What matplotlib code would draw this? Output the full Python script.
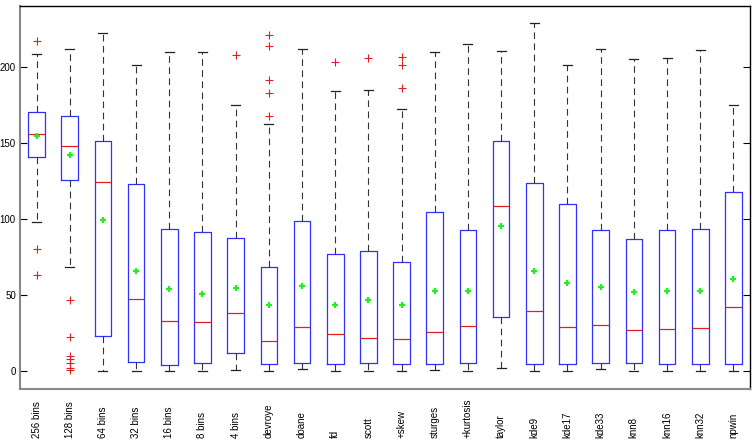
import matplotlib
matplotlib.use("Agg")
import matplotlib.pyplot as plt

labels = ["256 bins", "128 bins", "64 bins", "32 bins", "16 bins", "8 bins", "4 bins",
          "devroye", "doane", "fd", "scott", "+skew", "sturges", "+kurtosis",
          "taylor", "kde9", "kde17", "kde33", "knn8", "knn16", "knn32", "npwin"]

whislo = [97.8, 68.2, 0, 0, 0, 0, 0.7, 0, 1.1, 0, 0, 0, 0.9, 0,
          1.8, 0, 0, 1.5, 0, 0, 0, 0]
q1 = [140.8, 125.4, 22.8, 5.7, 3.9, 5.3, 11.6, 4.4, 5.0, 4.4, 5.0, 4.4, 4.4, 5.3,
      35.7, 4.8, 4.4, 5.3, 5.3, 4.8, 4.4, 4.8]
med = [155.7, 147.8, 124.1, 47.4, 32.7, 32.2, 38.4, 19.5, 28.7, 24.1, 21.7, 21.1, 25.9, 29.4,
       108.3, 39.3, 28.7, 30.5, 26.7, 27.4, 28.1, 41.9]
q3 = [170.0, 168.0, 151.5, 123.0, 93.2, 91.2, 87.3, 68.2, 98.9, 76.7, 78.7, 71.9, 104.4, 93.0,
      151.5, 123.5, 109.6, 92.8, 87.0, 92.8, 93.2, 117.8]
whishi = [208.3, 212.0, 222.4, 200.9, 209.9, 209.6, 174.8, 162.3, 211.6, 184.2, 184.9, 172.1, 209.6, 214.9,
          210.1, 229.0, 201.5, 211.6, 205.0, 205.5, 210.9, 175.2]
means = [154.6, 141.9, 99.3, 65.8, 53.7, 50.9, 54.4, 43.6, 55.7, 43.6, 46.5, 43.2, 52.8, 52.8,
         95.2, 65.8, 57.9, 55.3, 51.8, 52.8, 52.8, 60.3]
outliers = [
    [217.3, 80.3, 63.4],
    [46.5, 22.4, 10.0, 8.0, 5.0, 2.0, 1.0],
    [], [], [], [],
    [207.5],
    [221.0, 214.0, 191.2, 182.7, 167.6],
    [],
    [203.5],
    [205.7],
    [206.3, 201.3, 186.4],
    [], [], [], [], [], [], [], [], [], [],
]

stats = []
for i, lab in enumerate(labels):
    stats.append(dict(label=lab, whislo=whislo[i], q1=q1[i], med=med[i], q3=q3[i],
                      whishi=whishi[i], mean=means[i], fliers=outliers[i]))

plt.rcParams['font.family'] = ['Liberation Sans', 'DejaVu Sans']

fig = plt.figure(figsize=(7.56, 4.48), dpi=100)
ax = fig.add_axes([20 / 756, 1 - 389 / 448, 730 / 756, 383 / 448])

positions = list(range(1, len(labels) + 1))
ax.bxp(stats, positions=positions, widths=0.5, showmeans=True,
       capwidths=0.27,
       boxprops=dict(color="#3030ff", linewidth=0.9),
       medianprops=dict(color="#e02020", linewidth=0.9),
       whiskerprops=dict(color="#333333", linewidth=0.8, linestyle=(0, (6, 4))),
       capprops=dict(color="#222222", linewidth=0.9),
       flierprops=dict(marker="+", markeredgecolor="#e02020", markersize=5.5, markeredgewidth=0.8),
       meanprops=dict(marker="+", markeredgecolor="#22ee22", markersize=5, markeredgewidth=1.6))

ax.set_xlim(0.5, len(labels) + 0.5)
ax.set_ylim(-11.8, 240)
ax.set_yticks([0, 50, 100, 150, 200])
ax.tick_params(axis="y", direction="in", length=5, labelsize=7, right=True, pad=3)
ax.set_xticks(positions)
ax.set_xticklabels([])
ax.tick_params(axis="x", length=0)

# MATLAB-style rotated labels: text starts at a common baseline below the axes
for p, lab in zip(positions, labels):
    ax.text(p, -0.128, lab, transform=ax.get_xaxis_transform(), rotation=90,
            ha="center", va="bottom", fontsize=7, rotation_mode="default")

for side in ["left", "bottom"]:
    ax.spines[side].set_color("#888888")
    ax.spines[side].set_linewidth(1.5)
for side in ["top", "right"]:
    ax.spines[side].set_color("black")
    ax.spines[side].set_linewidth(1.0)

fig.savefig("out.png", dpi=100)
